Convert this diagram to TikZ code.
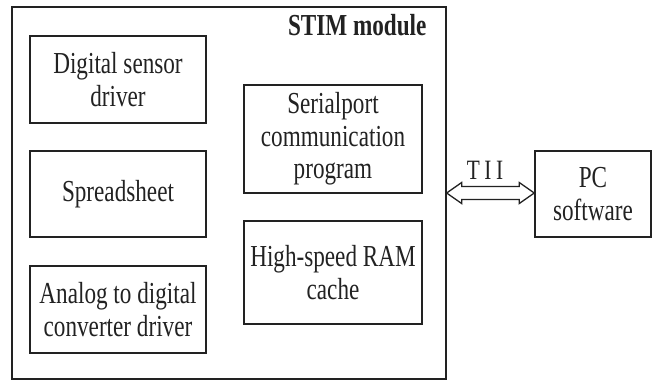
\documentclass[tikz,border=0pt]{standalone}
\usepackage{fontspec}
\setmainfont[FakeStretch=0.76]{Liberation Serif}
\usetikzlibrary{calc}
\definecolor{ink}{HTML}{222222}
\tikzset{
  x=1pt, y=-1pt,
  txt/.style={font=\fontsize{30.5}{32.5}\selectfont, text=ink, align=center},
  block/.style={draw=ink, line width=1.5pt, txt, inner sep=0pt},
  frame/.style={draw=ink, line width=1.3pt},
  fatarrow/.style={draw=ink, line width=1.3pt, fill=white, line join=miter}
}
\begin{document}
\begin{tikzpicture}
\useasboundingbox (0,0) rectangle (653,381);

% STIM module frame
\node[frame, minimum width=434pt, minimum height=372pt, inner sep=0pt] (stim) at (229,193) {};
\node[txt, font=\fontsize{30.5}{32.5}\selectfont\bfseries, anchor=base east] (stimlbl) at (430,35) {STIM module};

% left column
\node[block, minimum width=176pt, minimum height=87pt] (dsd) at (118,79.5) {Digital sensor\\driver};
\node[block, minimum width=176pt, minimum height=86pt] (sheet) at (118,194) {Spreadsheet};
\node[block, minimum width=176pt, minimum height=87pt] (adc) at (118,309.5) {Analog to digital\\converter driver};

% right column
\node[block, minimum width=178pt, minimum height=108pt] (serial) at (333,139) {Serialport\\communication\\program};
\node[block, minimum width=178pt, minimum height=103pt] (ram) at (333,272.5) {High-speed RAM\\cache};

% PC side
\node[block, minimum width=116pt, minimum height=86pt] (pc) at (593,194) {PC\\software};

% TII double arrow between the module and the PC
\coordinate (aL) at (stim.east);
\coordinate (aR) at (pc.west |- stim.east);
\draw[fatarrow] (aL) -- ($(aL)+(15,-10.5)$) -- ($(aL)+(15,-6.5)$)
  -- ($(aR)+(-15,-6.5)$) -- ($(aR)+(-15,-10.5)$) -- (aR)
  -- ($(aR)+(-15,10.5)$) -- ($(aR)+(-15,6.5)$)
  -- ($(aL)+(15,6.5)$) -- ($(aL)+(15,10.5)$) -- cycle;
\node[txt, font=\fontsize{28}{30}\selectfont, anchor=base] (tii) at (485,179) {T\,I\,I};
\end{tikzpicture}
\end{document}
